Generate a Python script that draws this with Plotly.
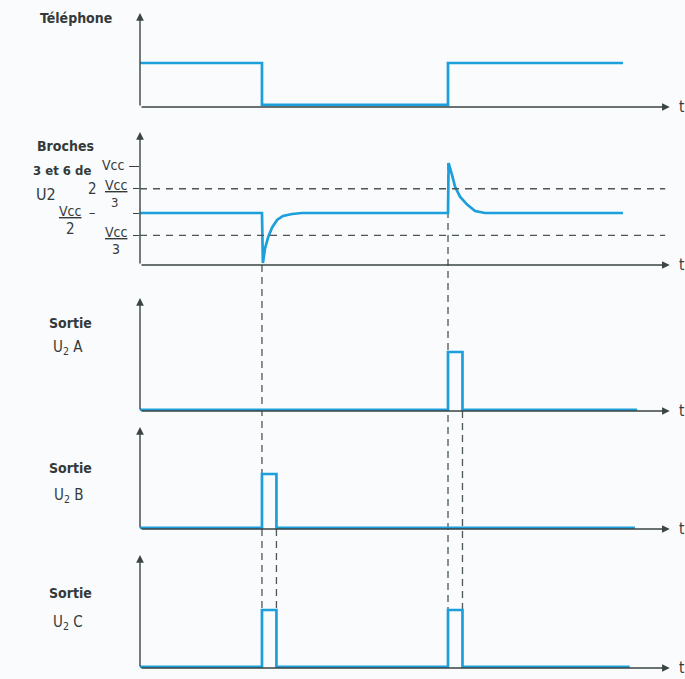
import plotly.graph_objects as go

SIGNAL_BLUE = "#1c9fdb"
AXIS_GREY = "#3b4444"
DASH_GREY = "#4d5757"
TEXT_GREY = "#343a3a"
PAPER = "#f9fbfc"
FONT = "DejaVu Sans Condensed, Liberation Sans Narrow, Arial, sans-serif"

W, H = 685, 679
X0_PX, PX_PER_T = 140, 30.8
T_MAX = 17.3

# --- data (time in arbitrary units) ---
T_TEL = [0, 3.96, 3.96, 10.0, 10.0, 15.68]
V_TEL = [1, 1, 0.05, 0.05, 1, 1]

# pins 3 & 6 of U2, in fractions of Vcc
T_PIN = [0, 3.96, 3.99, 4.06, 4.16, 4.29, 4.45, 4.64, 4.94, 5.26,
         10.0, 10.02, 10.13, 10.23, 10.39, 10.62, 10.88, 11.2, 15.68]
V_PIN = [0.525, 0.525, 0.02, 0.17, 0.28, 0.38, 0.455, 0.495, 0.515, 0.525,
         0.525, 1.03, 0.91, 0.79, 0.69, 0.61, 0.545, 0.525, 0.525]
PIN_LEVELS = [1.0, 0.77, 0.525, 0.30]
PIN_THRESHOLDS = [0.77, 0.30]

T_OUT_A = [0, 10.0, 10.0, 10.47, 10.47, 16.14]
V_OUT_A = [0.02, 0.02, 1, 1, 0.02, 0.02]
T_OUT_B = [0, 3.96, 3.96, 4.43, 4.43, 16.07]
V_OUT_B = [0.02, 0.02, 1, 1, 0.02, 0.02]
T_OUT_C = [0, 3.96, 3.96, 4.43, 4.43, 10.0, 10.0, 10.47, 10.47, 15.9]
V_OUT_C = [0.02, 0.02, 1, 1, 0.02, 0.02, 1, 1, 0.02, 0.02]

# panel geometry in reference pixels: (axis line, top of y axis, px per unit)
PANELS = [(107, 13, 44), (265, 132, 99), (411, 298, 59), (529, 427, 55), (668, 555, 58)]


def pan_range(i):
    axis_px, top_px, unit = PANELS[i]
    return (axis_px - top_px) / unit


def px_y(y_px):
    return 1 - y_px / H


def px_x(x_px):
    return x_px / W


def paper_y(i, v):
    axis_px, top_px, unit = PANELS[i]
    return px_y(axis_px - v * unit)


fig = go.Figure()
series = [(T_TEL, V_TEL), (T_PIN, V_PIN), (T_OUT_A, V_OUT_A), (T_OUT_B, V_OUT_B), (T_OUT_C, V_OUT_C)]

x_dom = [px_x(X0_PX), px_x(X0_PX + T_MAX * PX_PER_T)]
axes = {}
annotations = []
shapes = []
for i, (t, v) in enumerate(series):
    n = "" if i == 0 else str(i + 1)
    axis_px, top_px, unit = PANELS[i]
    axes["xaxis" + n] = dict(domain=x_dom, range=[0, T_MAX], anchor="y" + n,
                             visible=False, fixedrange=True)
    axes["yaxis" + n] = dict(domain=[px_y(axis_px), px_y(top_px)], range=[0, pan_range(i)],
                             anchor="x" + n, showgrid=False, zeroline=False, showline=False,
                             showticklabels=False, ticks="")
    fig.add_scatter(x=t, y=v, mode="lines", xaxis="x" + n, yaxis="y" + n, cliponaxis=False,
                    line=dict(color=SIGNAL_BLUE, width=2.7), hoverinfo="skip", showlegend=False)
    # axes drawn as arrows
    for (x1, y1) in [(17.2, 0), (0, pan_range(i))]:
        annotations.append(dict(x=x1, y=y1, ax=0, ay=0, xref="x" + n, yref="y" + n,
                                axref="x" + n, ayref="y" + n, text="", showarrow=True,
                                arrowhead=2, arrowsize=1.1, arrowwidth=1.4, arrowcolor=AXIS_GREY))
    annotations.append(dict(x=px_x(677), y=px_y(axis_px), xref="paper", yref="paper", text="t",
                            showarrow=False, xanchor="left", yanchor="middle",
                            font=dict(size=15, color=TEXT_GREY)))

# pin 3/6 panel: ticks at the Vcc fractions, and comparator thresholds
axes["yaxis2"].update(tickvals=PIN_LEVELS, ticks="outside", ticklen=6, tickcolor=AXIS_GREY, tickwidth=1.4)
for lv in PIN_THRESHOLDS:
    fig.add_scatter(x=[0, 17.05], y=[lv, lv], mode="lines", xaxis="x2", yaxis="y2",
                    line=dict(color=DASH_GREY, width=1.3, dash="7px,6px"),
                    hoverinfo="skip", showlegend=False)

# vertical dashed connectors: (time, panel, level) -> (panel, level)
CONNECTORS = [(3.96, 1, 0.0, 4, 1.0), (4.43, 3, 0.0, 4, 1.0),
              (10.0, 1, 1.03, 4, 1.0), (10.47, 2, 0.0, 4, 1.0)]
for t, pa, va, pb, vb in CONNECTORS:
    shapes.append(dict(type="line", xref="x", yref="paper", x0=t, x1=t,
                       y0=paper_y(pa, va), y1=paper_y(pb, vb), layer="below",
                       line=dict(color=DASH_GREY, width=1.3, dash="7px,5px")))


def label(x_px, y_px, text, size=14, anchor="center"):
    annotations.append(dict(x=px_x(x_px), y=px_y(y_px), xref="paper", yref="paper", text=text,
                            showarrow=False, xanchor=anchor, yanchor="middle",
                            font=dict(size=size, color=TEXT_GREY, family=FONT)))


label(76, 18, "<b>Téléphone</b>")
label(65, 146, "<b>Broches</b>")
label(62, 170, "<b>3 et 6 de</b>", size=13)
label(46, 194, "U2", size=16)
# Vcc fraction labels
label(137, 165, "Vcc –", anchor="right")
label(92, 189, "2", size=15)
label(116, 185, "<u>Vcc</u>")
label(115, 202, "3", size=13)
label(70, 211, "<u>Vcc</u>")
label(70, 229, "2", size=15)
label(92, 212, "–")
label(116, 232, "<u>Vcc</u>")
label(116, 249, "3")

for y_top, y_bot, letter in [(323, 347, "A"), (468, 495, "B"), (593, 622, "C")]:
    label(70, y_top, "<b>Sortie</b>")
    label(68, y_bot, "U<sub>2</sub> " + letter, size=15)

fig.update_layout(width=W, height=H, margin=dict(l=0, r=0, t=0, b=0),
                  paper_bgcolor=PAPER, plot_bgcolor=PAPER, showlegend=False,
                  font=dict(family=FONT, color=TEXT_GREY),
                  annotations=annotations, shapes=shapes, **axes)
# drop the page's default body margin so the figure fills the window exactly
fig.write_html("out.html", config={"displayModeBar": False},
               post_script="document.body.style.margin='0';document.body.style.overflow='hidden';")
